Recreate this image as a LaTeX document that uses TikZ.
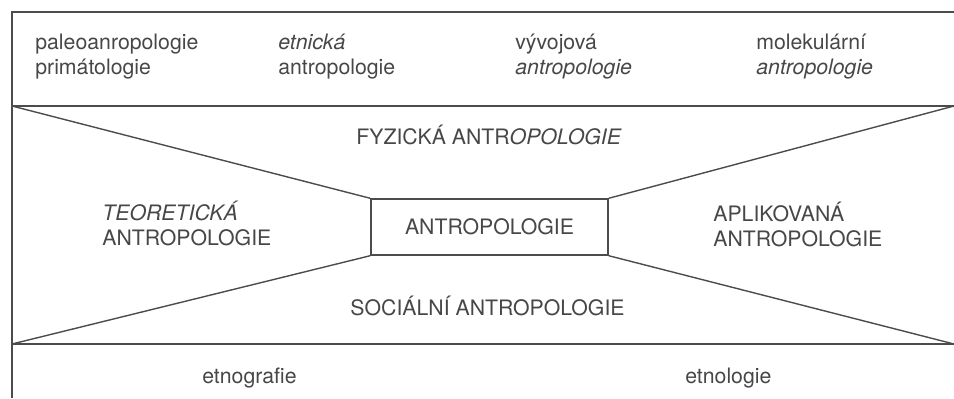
\documentclass[tikz,border=0pt]{standalone}
\usepackage{fontspec}
\setmainfont{TeX Gyre Heros}
\usepackage{tikz}

\begin{document}
\begin{tikzpicture}[
    line/.style={draw=black!70, line width=0.8pt},
    lbl/.style={text=black!72, font=\fontsize{12.1}{13.7}\selectfont, inner sep=0pt, align=left, anchor=base west},
    mid/.style={lbl, anchor=base},
  ]
    \useasboundingbox (0,0) rectangle (19.08,7.96);
    \coordinate (tl) at (0.24,7.72);
    \coordinate (tr) at (19.08,7.72);
    \coordinate (ml) at (0.24,5.84);
    \coordinate (mr) at (19.08,5.84);
    \coordinate (ll) at (0.24,1.08);
    \coordinate (lr) at (19.08,1.08);
    \coordinate (bl) at (0.24,0);

    \node[line, lbl, anchor=center, minimum width=4.74cm, minimum height=1.12cm] (antro) at (9.79,3.42) {ANTROPOLOGIE};

    \draw[line] (bl) -- (tl) -- (tr);
    \draw[line] (ml) -- (mr);
    \draw[line] (ll) -- (lr);
    \draw[line] (ml) -- (antro.north west);
    \draw[line] (antro.north east) -- (mr);
    \draw[line] (ll) -- (antro.south west);
    \draw[line] (antro.south east) -- (lr);

    \node[lbl] (paleo) at (0.70,6.48) {paleoanropologie\\primátologie};
    \node[lbl] (etnicka) at (5.56,6.48) {\textit{etnická}\\antropologie};
    \node[lbl] (vyvoj) at (10.30,6.48) {vývojová\\\textit{antropologie}};
    \node[lbl] (molek) at (15.12,6.48) {molekulární\\\textit{antropologie}};

    \node[mid] (fyz) at (9.78,5.08) {FYZICKÁ ANTR\textit{OPOLOGIE}};
    \node[lbl] (teor) at (2.04,3.06) {\textit{TEORETICKÁ}\\ANTROPOLOGIE};
    \node[lbl] (aplik) at (14.26,3.04) {APLIKOVANÁ\\ANTROPOLOGIE};
    \node[mid] (soc) at (9.75,1.66) {SOCIÁLNÍ ANTROPOLOGIE};

    \node[lbl] (etnog) at (4.04,0.30) {etnografie};
    \node[lbl] (etnol) at (13.70,0.30) {etnologie};
\end{tikzpicture}
\end{document}
